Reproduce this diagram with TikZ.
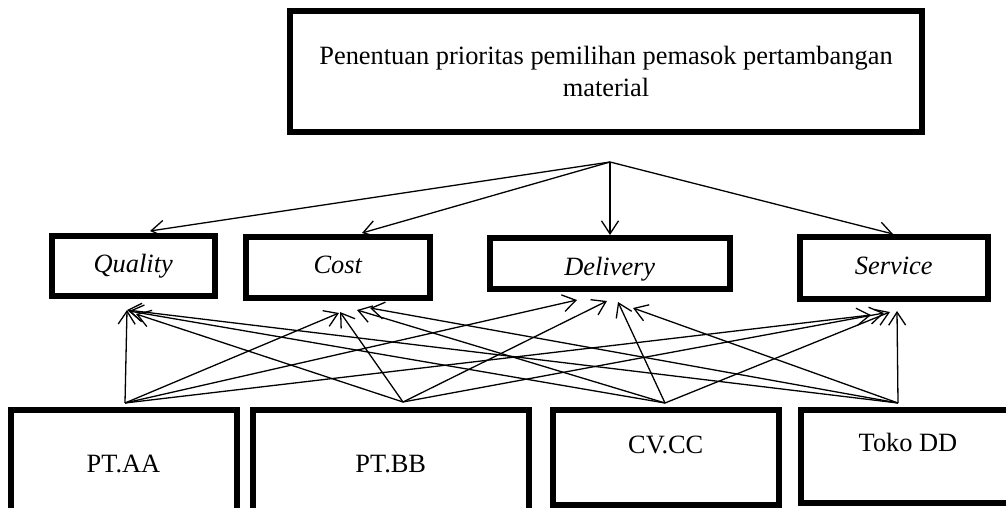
\documentclass[tikz,border=0pt]{standalone}
\usepackage{fontspec}
\setmainfont{Liberation Serif}
\usetikzlibrary{arrows.meta}

\begin{document}
\begin{tikzpicture}[x=0.5pt, y=-0.5pt,
		every node/.style={font=\fontsize{13.2}{16}\selectfont, inner sep=0pt},
		goalbox/.style={draw, line width=3pt, align=center},
		critbox/.style={draw, line width=3pt, font=\fontsize{13.2}{16}\selectfont\itshape, text height=9.24pt, text depth=2.9pt},
		altbox/.style={draw, line width=3pt, text height=9.24pt, text depth=2.9pt},
		link/.style={line width=0.65pt, -{Straight Barb[length=6.5pt, width=8.5pt]}}]
				\useasboundingbox (0,0) rectangle (1006,508);
				\clip (0,0) rectangle (1006,508);
				
				% tujuan
				\node[goalbox, minimum width=316pt, minimum height=60.25pt] (goal) at (606,71.75) {Penentuan prioritas pemilihan pemasok pertambangan\\material};
				
				% kriteria
				\node[critbox, minimum width=81.25pt, minimum height=30pt] (quality) at (133.25,266) {Quality};
				\node[critbox, minimum width=92.25pt, minimum height=30.75pt] (cost) at (337.75,267.25) {Cost};
				\node[critbox, minimum width=120.25pt, minimum height=25.5pt, text height=14.4pt] (delivery) at (609.75,263.5) {Delivery};
				\node[critbox, minimum width=94.25pt, minimum height=31.25pt] (service) at (893.75,267.75) {Service};
				
				% alternatif
				\node[altbox, minimum width=113pt, minimum height=56.5pt] (aa) at (123.5,466.5) {PT.AA};
				\node[altbox, minimum width=138.25pt, minimum height=56.5pt] (bb) at (390.75,466.5) {PT.BB};
				\node[altbox, minimum width=112.75pt, minimum height=47.5pt, text depth=13.7pt] (cc) at (665.75,457.5) {CV.CC};
				\node[altbox, minimum width=107.5pt, minimum height=46.25pt, text depth=13.7pt] (dd) at (908,456.25) {Toko DD};
				
				\coordinate (hub) at (610,162);
				\coordinate (aa-out) at (125,403);
				\coordinate (bb-out) at (403,402);
				\coordinate (cc-out) at (665,403);
				\coordinate (dd-out) at (898,403);
				
				\coordinate (q-top) at (150,231);
				\coordinate (c-top) at (362,233);
				\coordinate (d-top) at (610,235);
				\coordinate (s-top) at (893,234);
				
				\coordinate (q-aa) at (127,310);
				\coordinate (q-bb) at (136,314);
				\coordinate (q-cc) at (129,311);
				\coordinate (q-dd) at (127,310);
				\coordinate (c-aa) at (339,313);
				\coordinate (c-bb) at (340,312);
				\coordinate (c-cc) at (357,310);
				\coordinate (c-dd) at (370,308);
				\coordinate (d-aa) at (577,300);
				\coordinate (d-bb) at (607,301);
				\coordinate (d-cc) at (618,302);
				\coordinate (d-dd) at (633,308);
				\coordinate (s-aa) at (871,315);
				\coordinate (s-bb) at (884,313);
				\coordinate (s-cc) at (890,312);
				\coordinate (s-dd) at (897,311);
				
				% tujuan ke kriteria
				\draw[link] (hub) -- (q-top);
				\draw[link] (hub) -- (c-top);
				\draw[link] (hub) -- (d-top);
				\draw[link] (hub) -- (s-top);
				
				% alternatif ke kriteria
				\draw[link] (aa-out) -- (q-aa);
				\draw[link] (aa-out) -- (c-aa);
				\draw[link] (aa-out) -- (d-aa);
				\draw[link] (aa-out) -- (s-aa);
				
				\draw[link] (bb-out) -- (q-bb);
				\draw[link] (bb-out) -- (c-bb);
				\draw[link] (bb-out) -- (d-bb);
				\draw[link] (bb-out) -- (s-bb);
				
				\draw[link] (cc-out) -- (q-cc);
				\draw[link] (cc-out) -- (c-cc);
				\draw[link] (cc-out) -- (d-cc);
				\draw[link] (cc-out) -- (s-cc);
				
				\draw[link] (dd-out) -- (q-dd);
				\draw[link] (dd-out) -- (c-dd);
				\draw[link] (dd-out) -- (d-dd);
				\draw[link] (dd-out) -- (s-dd);
			\end{tikzpicture}
\end{document}
